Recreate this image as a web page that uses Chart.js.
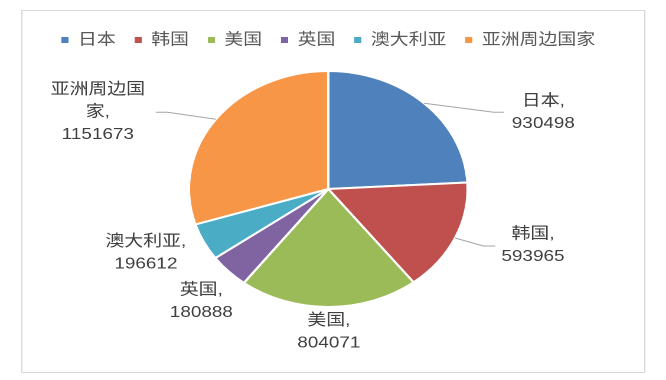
<!DOCTYPE html>
<html>
<head>
<meta charset="utf-8">
<script src="https://cdn.jsdelivr.net/npm/chart.js@4.4.0/dist/chart.umd.min.js"></script>
<style>
  html, body { margin: 0; padding: 0; background: #fff; overflow: hidden; }
  /* 原图是横向拉伸的，所以整个画布也横向拉伸 */
  #wrap { width: 564px; height: 380px; transform: scaleX(1.1809); transform-origin: 0 0; }
</style>
</head>
<body>
<div id="wrap"><canvas id="pieChart" width="564" height="380"></canvas></div>
<script>
var categories = ["日本", "韩国", "美国", "英国", "澳大利亚", "亚洲周边国家"];
var values = [930498, 593965, 804071, 180888, 196612, 1151673];
var sliceColors = ["#4F81BD", "#C0504D", "#9BBB59", "#8064A2", "#4BACC6", "#F79646"];

var fontFamily = "'Liberation Sans', 'Noto Sans CJK SC', sans-serif";

//外框
var framePlugin = {
  id: "frame",
  beforeDraw: function (chart) {
    var ctx = chart.ctx;
    ctx.save();
    ctx.fillStyle = "#ffffff";
    ctx.fillRect(0, 0, chart.width, chart.height);
    ctx.strokeStyle = "#d9d9d9";
    ctx.lineWidth = 1;
    ctx.strokeRect(18.5, 10.5, 527.5, 362);
    ctx.restore();
  },
};

//名称太长就换行
function wrapName(text) {
  var out = [];
  for (var i = 0; i < text.length; i += 5) {
    out.push(text.slice(i, i + 5));
  }
  return out;
}

//数据标签 + 引导线
var pieLabels = {
  id: "pieLabels",
  afterDraw: function (chart, args, opts) {
    var ctx = chart.ctx;
    var meta = chart.getDatasetMeta(0);
    ctx.save();
    ctx.font = "16px " + fontFamily;
    ctx.textAlign = "center";
    ctx.textBaseline = "middle";
    meta.data.forEach(function (arc, i) {
      var p = arc.getProps(["x", "y", "startAngle", "endAngle", "outerRadius"], true);
      var mid = (p.startAngle + p.endAngle) / 2;
      var ex = p.x + Math.cos(mid) * p.outerRadius;
      var ey = p.y + Math.sin(mid) * p.outerRadius;
      var place = opts.placement[i];
      var cx, cy;
      if (place.elbow) {
        var bx = ex + place.elbow[0];
        var by = ey + place.elbow[1];
        ctx.strokeStyle = "#a6a6a6";
        ctx.lineWidth = 1;
        ctx.beginPath();
        ctx.moveTo(ex, ey);
        ctx.lineTo(bx, by);
        ctx.lineTo(bx + place.tail, by);
        ctx.stroke();
        cx = bx + place.text[0];
        cy = by + place.text[1];
      } else {
        cx = ex + place.text[0];
        cy = ey + place.text[1];
      }
      var lines = wrapName(chart.data.labels[i] + ",");
      lines.push(String(chart.data.datasets[0].data[i]));
      var lh = 22.5;
      var top = cy - ((lines.length - 1) * lh) / 2;
      ctx.fillStyle = "#404040";
      lines.forEach(function (t, k) {
        ctx.fillText(t, cx, top + k * lh);
      });
    });
    ctx.restore();
  },
};

var ctxPie = document.getElementById("pieChart");
var chartPie = new Chart(ctxPie, {
  type: "pie",
  data: {
    labels: categories,
    datasets: [
      {
        data: values,
        backgroundColor: sliceColors,
        borderColor: "#ffffff",
        borderWidth: 2,
      },
    ],
  },
  options: {
    responsive: false,
    devicePixelRatio: 2,
    animation: false,
    radius: 118,
    layout: {
      padding: { top: 16, left: 0, right: 8, bottom: 60 },
    },
    plugins: {
      tooltip: { enabled: false },
      legend: {
        position: "top",
        labels: {
          boxWidth: 6,
          boxHeight: 6,
          padding: 16,
          color: "#595959",
          font: { size: 16, family: fontFamily },
          generateLabels: function (chart) {
            var items = Chart.overrides.pie.plugins.legend.labels.generateLabels(chart);
            items.forEach(function (it) {
              it.lineWidth = 0;
            });
            return items;
          },
        },
      },
      pieLabels: {
        placement: [
          { elbow: [59, 9], tail: 8.5, text: [42, 0] },
          { elbow: [24, 8], tail: 10, text: [42, -0.5] },
          { text: [0, 25] },
          { text: [-23, 30] },
          { text: [-49, 11] },
          { elbow: [-41, -7], tail: -10, text: [-59, 0] },
        ],
      },
    },
  },
  plugins: [framePlugin, pieLabels],
});
</script>
</body>
</html>
